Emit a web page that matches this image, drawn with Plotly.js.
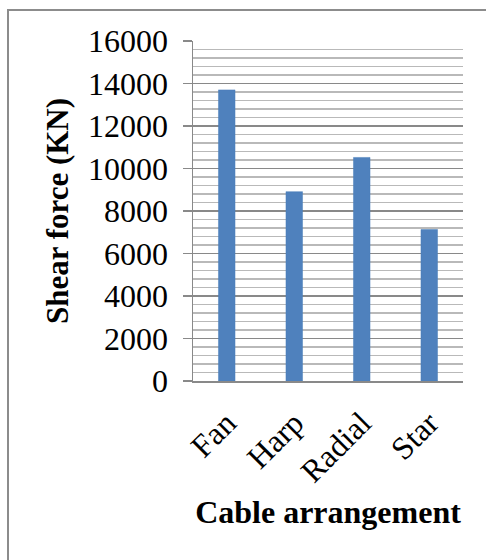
<!DOCTYPE html>
<html>
<head>
<meta charset="utf-8">
<script src="https://cdn.plot.ly/plotly-3.0.1.min.js"></script>
<style>
html,body{margin:0;padding:0;background:#fff;}
#chart{width:486px;height:560px;}
</style>
</head>
<body>
<div id="chart"></div>
<script>
var categories = ["Fan", "Harp", "Radial", "Star"];
var shearForce = [13700, 8910, 10520, 7130];
var yTickValues = [0, 2000, 4000, 6000, 8000, 10000, 12000, 14000, 16000];
var yTickLabels = ["0", "2000", "4000", "6000", "8000", "10000", "12000", "14000", "16000"];

var L = 193, R = 463, T = 41, B = 381;
var pw = R - L, ph = B - T;
function px2x(p){ return (p - L) / pw; }
function px2y(p){ return (B - p) / ph; }

var trace = {
  type: "bar",
  x: categories,
  y: shearForce,
  marker: {color: "#4F81BD", line: {color: "#4A7EBB", width: 0.5}},
  hoverinfo: "x+y"
};

var layout = {
  width: 486,
  height: 560,
  margin: {l: L, r: 486 - R, t: T, b: 560 - B},
  paper_bgcolor: "#ffffff",
  plot_bgcolor: "#ffffff",
  showlegend: false,
  bargap: 0.755,
  font: {family: "Liberation Serif, Times New Roman, serif", color: "#000"},
  xaxis: {
    type: "category",
    tickangle: -45,
    tickfont: {size: 32, family: "Liberation Serif, serif", color: "#000"},
    ticklabelstandoff: 9,
    showline: true,
    linecolor: "#898989",
    linewidth: 1.5,
    ticks: "",
    showgrid: false,
    zeroline: false,
    title: {text: "Cable arrangement", font: {size: 32, family: "Liberation Serif, serif", color: "#000", weight: "bold"}, standoff: 12}
  },
  yaxis: {
    range: [0, 16000],
    tickmode: "array",
    tickvals: yTickValues,
    ticktext: yTickLabels,
    tickfont: {size: 32, family: "Liberation Serif, serif", color: "#000"},
    ticks: "outside",
    ticklen: 9,
    tickcolor: "#898989",
    tickwidth: 1.5,
    ticklabelstandoff: 8,
    showline: true,
    linecolor: "#898989",
    linewidth: 1.5,
    showgrid: true,
    gridcolor: "#898989",
    gridwidth: 1.5,
    zeroline: false,
    minor: {dtick: 400, showgrid: true, gridcolor: "#b9b9b9", gridwidth: 1.5, ticks: ""},
    title: {text: "Shear force (KN)", font: {size: 31, family: "Liberation Serif, serif", color: "#000", weight: "bold"}, standoff: 10}
  },
  shapes: [{
    type: "rect",
    xref: "paper", yref: "paper",
    x0: px2x(8), x1: px2x(520),
    y0: px2y(600), y1: px2y(10),
    line: {color: "#8c8c8c", width: 2},
    fillcolor: "rgba(0,0,0,0)",
    layer: "above"
  }]
};

Plotly.newPlot("chart", [trace], layout, {displayModeBar: false, staticPlot: true});
</script>
</body>
</html>
